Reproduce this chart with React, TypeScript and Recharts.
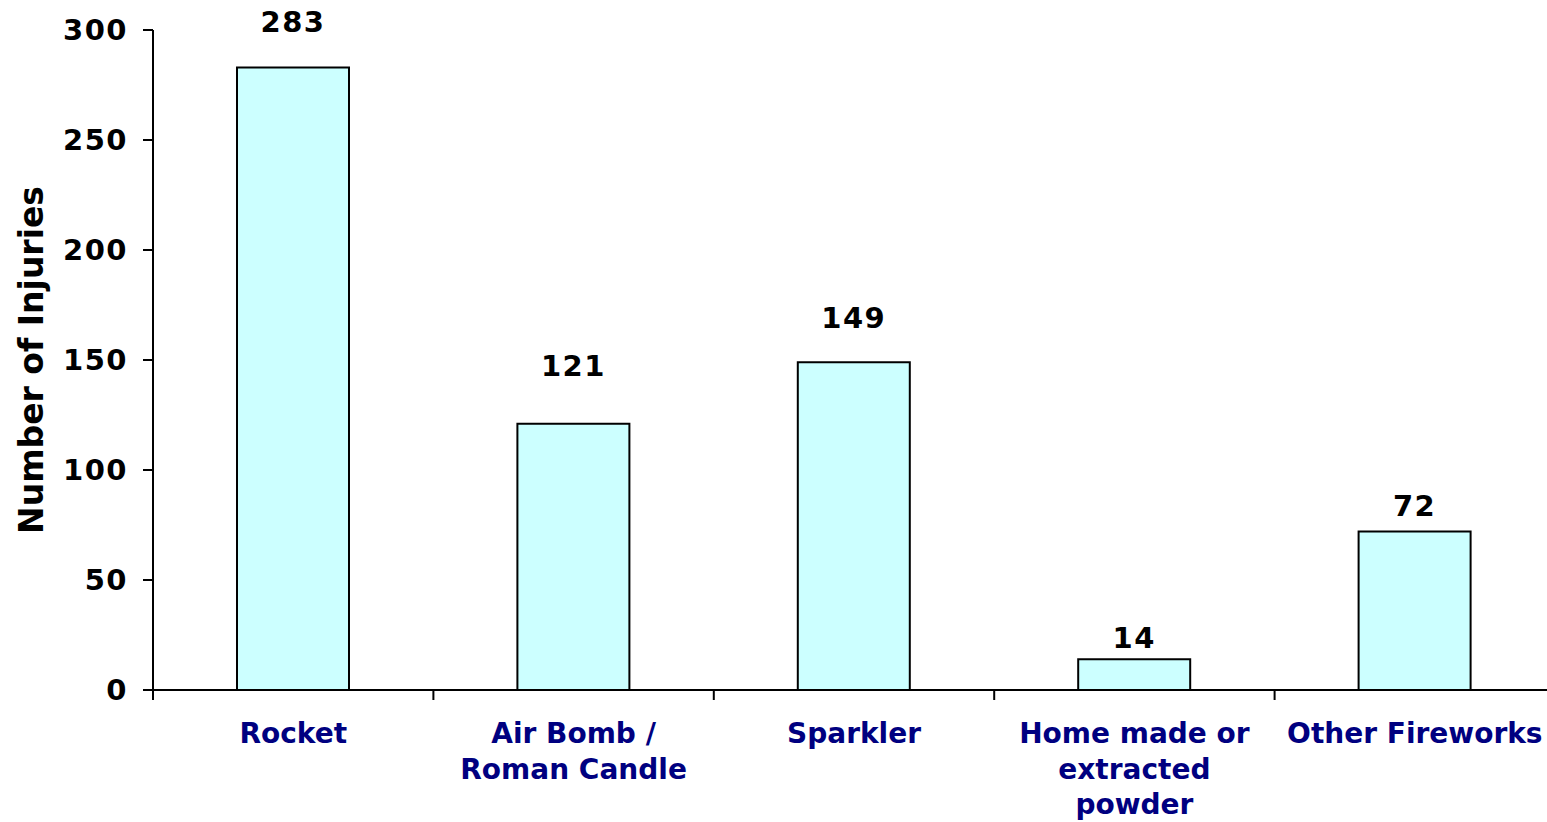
import React from "react";
import { BarChart, Bar, XAxis, YAxis, LabelList } from "recharts";

const categories = [
  "Rocket",
  "Air Bomb /\nRoman Candle",
  "Sparkler",
  "Home made or\nextracted\npowder",
  "Other Fireworks",
];
const injuries = [283, 121, 149, 14, 72];
const yTicks = [0, 50, 100, 150, 200, 250, 300];

// label gap above each bar, as placed in the source chart
const labelGaps = [35, 48, 34, 11, 16];

const W = 1547;
const H = 822;
const CHART_W = 1555; // plot runs slightly past the right edge of the picture
const PLOT_LEFT = 153;
const PLOT_TOP = 30;
const AXIS_Y = 690;
const BAND = (CHART_W - PLOT_LEFT) / categories.length;
const FONT = '"DejaVu Sans", Verdana, sans-serif';

const data = categories.map((name, i) => ({ name, value: injuries[i] }));

const CategoryTick = ({ x, payload, index }: any) => {
  const lines = String(payload.value).split("\n");
  const left = x - BAND / 2;
  return (
    <g>
      <line x1={left} x2={left} y1={AXIS_Y} y2={AXIS_Y + 10} stroke="#000" strokeWidth={2} />
      {index === categories.length - 1 && (
        <line x1={x + BAND / 2} x2={x + BAND / 2} y1={AXIS_Y} y2={AXIS_Y + 10} stroke="#000" strokeWidth={2} />
      )}
      <text
        x={x}
        y={AXIS_Y + 53}
        textAnchor="middle"
        fill="#000080"
        fontFamily={FONT}
        fontWeight="bold"
        fontSize={28}
      >
        {lines.map((l, i) => (
          <tspan key={i} x={x} dy={i === 0 ? 0 : 35.5}>
            {l}
          </tspan>
        ))}
      </text>
    </g>
  );
};

const YTitle = ({ viewBox }: any) => {
  const cy = viewBox ? viewBox.y + viewBox.height / 2 : 360;
  return (
    <text
      x={31}
      y={cy}
      transform={`rotate(-90 31 ${cy})`}
      textAnchor="middle"
      dominantBaseline="central"
      fontFamily={FONT}
      fontWeight="bold"
      fontSize={33}
      fill="#000"
    >
      Number of Injuries
    </text>
  );
};

const ValueLabel = ({ x, y, width, value, index }: any) => (
  <text
    x={x + width / 2}
    y={y - labelGaps[index]}
    textAnchor="middle"
    fontFamily={FONT}
    fontWeight="bold"
    fontSize={29}
    letterSpacing={1.5}
    fill="#000"
  >
    {value}
  </text>
);

export default function App() {
  return (
    <div style={{ width: W, height: H, background: "#fff", overflow: "hidden" }}>
      <style>{`body{margin:0}`}</style>
      <BarChart
        width={CHART_W}
        height={H}
        data={data}
        margin={{ top: PLOT_TOP, right: 0, bottom: 0, left: 0 }}
      >
        <XAxis
          dataKey="name"
          interval={0}
          height={H - AXIS_Y}
          axisLine={{ stroke: "#000", strokeWidth: 2 }}
          tickLine={false}
          tick={<CategoryTick />}
        />
        <YAxis
          width={PLOT_LEFT}
          domain={[0, 300]}
          ticks={yTicks}
          interval={0}
          tickSize={10}
          tickMargin={15}
          axisLine={{ stroke: "#000", strokeWidth: 2 }}
          tickLine={{ stroke: "#000", strokeWidth: 2 }}
          tick={{ fill: "#000", fontFamily: FONT, fontWeight: "bold", fontSize: 29, letterSpacing: 1.5 }}
          label={<YTitle />}
        />
        <Bar
          dataKey="value"
          barSize={112}
          fill="#CCFFFF"
          stroke="#000"
          strokeWidth={2}
          isAnimationActive={false}
        >
          <LabelList dataKey="value" content={<ValueLabel />} />
        </Bar>
      </BarChart>
    </div>
  );
}
